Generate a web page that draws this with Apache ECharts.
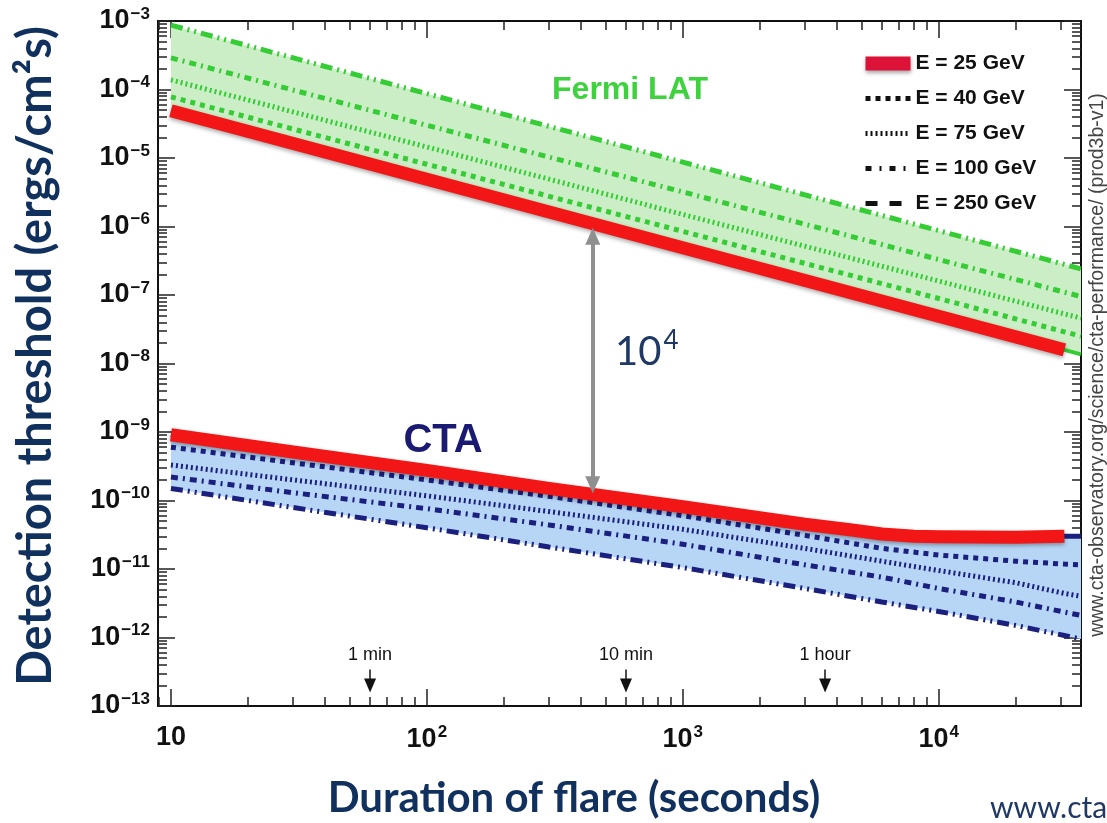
<!DOCTYPE html>
<html>
<head>
<meta charset="utf-8">
<script src="https://cdn.jsdelivr.net/npm/echarts@6/dist/echarts.min.js"></script>
<style>
  html, body { margin: 0; padding: 0; background: #fff; }
  #chart { width: 1107px; height: 823px; }
</style>
</head>
<body>
<div id="chart"></div>
<script>
// flare duration (s) sample points
var tFermi = [10, 100, 1000, 10000, 31000, 36000];
var tCta = [10, 30, 100, 300, 1000, 3000, 6000, 10000, 20000, 31000, 36000];
var tCta25 = [10, 30, 100, 300, 1000, 3000, 4500, 6000, 8000, 10000, 20000, 31000, 36000];

// Fermi LAT detection threshold (ergs/cm2/s)
var fermi25 = [4.9e-5, 4.9e-6, 4.9e-7, 4.9e-8, 1.58e-8, 1.36e-8];
var fermi40 = [7.8e-5, 8.1e-6, 8.5e-7, 8.9e-8, 2.9e-8, 2.5e-8];
var fermi75 = [1.38e-4, 1.45e-5, 1.5e-6, 1.6e-7, 5.3e-8, 4.6e-8];
var fermi100 = [2.9e-4, 3.0e-5, 3.2e-6, 3.3e-7, 1.1e-7, 9.5e-8];
var fermi250 = [8.7e-4, 8.7e-5, 8.7e-6, 8.7e-7, 2.8e-7, 2.4e-7];

// CTA detection threshold (ergs/cm2/s)
var cta25 = [9.1e-10, 5.1e-10, 2.75e-10, 1.5e-10, 8.1e-11, 4.5e-11, 3.75e-11, 3.25e-11, 3.0e-11, 2.95e-11, 2.9e-11, 3.0e-11, 3.0e-11];
var cta40 = [6.0e-10, 3.55e-10, 2.0e-10, 1.15e-10, 6.0e-11, 3.1e-11, 2.0e-11, 1.6e-11, 1.3e-11, 1.18e-11, 1.15e-11];
var cta75 = [3.3e-10, 2.0e-10, 1.17e-10, 6.9e-11, 3.8e-11, 2.0e-11, 1.3e-11, 9.5e-12, 6.3e-12, 4.4e-12, 4.0e-12];
var cta100 = [2.2e-10, 1.3e-10, 7.6e-11, 4.4e-11, 2.3e-11, 1.15e-11, 7.6e-12, 5.2e-12, 3.3e-12, 2.35e-12, 2.1e-12];
var cta250 = [1.5e-10, 7.9e-11, 4.0e-11, 2.1e-11, 1.05e-11, 5.2e-12, 3.3e-12, 2.4e-12, 1.5e-12, 1.07e-12, 9.5e-13];

// axis ticks
var xMajor = [10, 100, 1000, 10000];
var yMajor = [1e-13, 1e-12, 1e-11, 1e-10, 1e-9, 1e-8, 1e-7, 1e-6, 1e-5, 1e-4, 1e-3];

// time markers and the 10^4 gap arrow
var markTimes = [60, 600, 3600];
var markNames = ['1 min', '10 min', '1 hour'];
var gapTime = 445;
var gapTop = 7.2e-7;
var gapBottom = 1.7e-10;

var legendNames = ['E = 25 GeV', 'E = 40 GeV', 'E = 75 GeV', 'E = 100 GeV', 'E = 250 GeV'];

var RED = '#f31616';
var GREEN = '#35cc35';
var NAVY = '#1b1f7e';
var TITLE = '#10305e';

var dash40 = [5, 5];
var dash75 = [2, 3];
var dash100 = [7, 5, 2, 5];
var dash250 = [12, 5, 2, 5, 2, 5];

function minorsOf(majors) {
  var out = [];
  majors.forEach(function (m) {
    for (var k = 2; k <= 9; k++) out.push(+(m * k).toPrecision(3));
  });
  return out;
}
var xMinor = minorsOf([1, 10, 100, 1000, 10000]);
var yMinor = minorsOf(yMajor);

function pairs(ts, vs, n) {
  var d = [];
  for (var i = 0; i < (n || ts.length); i++) d.push([ts[i], vs[i]]);
  return d;
}

function expOf(v) { return Math.round(Math.log(v) / Math.LN10); }

var labelRich = {
  b: { fontFamily: 'Liberation Sans', fontWeight: 'bold', fontSize: 27, color: '#111' },
  s: { fontFamily: 'Liberation Sans', fontWeight: 'bold', fontSize: 17, color: '#111', padding: [0, 0, 14, 1] }
};

function xAxisCfg(pos, ticks, len, labels) {
  return {
    type: 'log', logBase: 10, position: pos, min: 8.9, max: 36000,
    axisLine: { show: true, onZero: false, lineStyle: { color: '#111', width: 2 } },
    axisTick: { show: true, inside: true, length: len, customValues: ticks, lineStyle: { color: '#222', width: 1.5 } },
    axisLabel: labels ? {
      show: true, customValues: xMajor, margin: 18,
      formatter: function (v) {
        var e = expOf(v);
        return e === 1 ? '{b|10}' : '{b|10}{s|' + e + '}';
      },
      rich: labelRich
    } : { show: false },
    splitLine: { show: false }
  };
}

function yAxisCfg(pos, ticks, len, labels) {
  return {
    type: 'log', logBase: 10, position: pos, min: 1e-13, max: 1e-3,
    axisLine: { show: true, onZero: false, lineStyle: { color: '#111', width: 2 } },
    axisTick: { show: true, inside: true, length: len, customValues: ticks, lineStyle: { color: '#222', width: 1.5 } },
    axisLabel: labels ? {
      show: true, customValues: yMajor, margin: 8,
      formatter: function (v) {
        return '{b|10}{s|\u2212' + Math.abs(expOf(v)) + '}';
      },
      rich: labelRich
    } : { show: false },
    splitLine: { show: false }
  };
}

// filled region between an upper and a lower curve
function band(tUp, upper, tLow, lower, color) {
  return {
    type: 'custom', z: 1, silent: true,
    data: [[tUp[0], upper[0]]],
    renderItem: function (params, api) {
      var pts = [];
      for (var i = 0; i < tUp.length; i++) pts.push(api.coord([tUp[i], upper[i]]));
      for (var j = tLow.length - 1; j >= 0; j--) pts.push(api.coord([tLow[j], lower[j]]));
      return { type: 'polygon', shape: { points: pts }, style: { fill: color } };
    }
  };
}

function curve(name, data, color, width, dash, z, extra) {
  var s = {
    type: 'line', name: name, data: data, z: z || 2,
    symbol: 'none', silent: true,
    color: color,
    lineStyle: { color: color, width: width, type: dash || 'solid', cap: 'butt' }
  };
  if (extra) for (var k in extra) s[k] = extra[k];
  return s;
}

var redShadow = { shadowBlur: 4, shadowColor: 'rgba(0,0,0,0.35)', shadowOffsetY: 2 };

var timeMarks = markTimes.map(function (t, i) {
  return [
    { coord: [t, 3.4e-13], name: markNames[i] },
    { coord: [t, 2.0e-13] }
  ];
});

var series = [
  band(tFermi, fermi250, tFermi, fermi25, '#cbeec6'),
  band(tCta25, cta25, tCta, cta250, '#b7d6f6'),

  curve('E = 25 GeV', pairs(tFermi, fermi25), GREEN, 4, 'solid', 2),
  curve('E = 40 GeV', pairs(tFermi, fermi40), GREEN, 5, dash40, 2),
  curve('E = 75 GeV', pairs(tFermi, fermi75), GREEN, 5, dash75, 2),
  curve('E = 100 GeV', pairs(tFermi, fermi100), GREEN, 5, dash100, 2),
  curve('E = 250 GeV', pairs(tFermi, fermi250), GREEN, 5, dash250, 2),

  curve('E = 25 GeV', pairs(tCta25, cta25), NAVY, 5, 'solid', 2),
  curve('E = 40 GeV', pairs(tCta, cta40), NAVY, 5, dash40, 2),
  curve('E = 75 GeV', pairs(tCta, cta75), NAVY, 5, dash75, 2),
  curve('E = 100 GeV', pairs(tCta, cta100), NAVY, 5, dash100, 2),
  curve('E = 250 GeV', pairs(tCta, cta250), NAVY, 5, dash250, 2, {
    markLine: {
      silent: true, z: 5,
      symbol: ['none', 'triangle'], symbolSize: [12, 14],
      lineStyle: { color: '#111', width: 1.5, type: 'solid' },
      label: {
        show: true, position: 'start', formatter: '{b}', distance: 6,
        fontFamily: 'Liberation Sans', fontSize: 18, color: '#111'
      },
      data: timeMarks
    }
  }),

  curve('E = 25 GeV', pairs(tFermi, fermi25, 5), RED, 13, 'solid', 3, {
    lineStyle: Object.assign({ color: RED, width: 13, cap: 'butt' }, redShadow),
    markLine: {
      silent: true, z: 5,
      symbol: ['triangle', 'triangle'], symbolSize: [15, 17],
      lineStyle: { color: '#8f8f8f', width: 4, type: 'solid' },
      itemStyle: { color: '#8f8f8f' },
      label: { show: false },
      data: [[{ coord: [gapTime, gapTop] }, { coord: [gapTime, gapBottom] }]]
    }
  }),
  curve('E = 25 GeV', pairs(tCta25, cta25, 12), RED, 13, 'solid', 3, {
    lineStyle: Object.assign({ color: RED, width: 13, cap: 'butt', join: 'round' }, redShadow)
  })
];

var chart = echarts.init(document.getElementById('chart'), null, { renderer: 'canvas' });

chart.setOption({
  backgroundColor: '#fff',
  animation: false,
  grid: { left: 158, right: 26, top: 21, bottom: 117 },
  xAxis: [
    xAxisCfg('bottom', xMajor, 17, true),
    xAxisCfg('bottom', xMinor, 9, false),
    xAxisCfg('top', xMajor, 17, false),
    xAxisCfg('top', xMinor, 9, false)
  ],
  yAxis: [
    yAxisCfg('left', yMajor, 17, true),
    yAxisCfg('left', yMinor, 9, false),
    yAxisCfg('right', yMajor, 17, false),
    yAxisCfg('right', yMinor, 9, false)
  ],
  legend: {
    orient: 'vertical', left: 858, top: 48,
    itemWidth: 45, itemHeight: 14, itemGap: 14,
    selectedMode: false,
    textStyle: { fontFamily: 'Liberation Sans', fontSize: 21, fontWeight: 'bold', color: '#111' },
    data: [
      { name: legendNames[0], icon: 'rect', itemStyle: Object.assign({ color: '#dc1238', borderWidth: 0 }, redShadow) },
      { name: legendNames[1], itemStyle: { opacity: 0 }, lineStyle: { color: '#111', width: 5, type: dash40 } },
      { name: legendNames[2], itemStyle: { opacity: 0 }, lineStyle: { color: '#111', width: 5, type: dash75 } },
      { name: legendNames[3], itemStyle: { opacity: 0 }, lineStyle: { color: '#111', width: 5, type: [6, 8, 2, 8] } },
      { name: legendNames[4], itemStyle: { opacity: 0 }, lineStyle: { color: '#111', width: 5, type: [12, 12] } }
    ]
  },
  graphic: [
    {
      type: 'text', x: 36, y: 356, rotation: Math.PI / 2,
      style: { text: 'Detection threshold (ergs/cm\u00b2s)', align: 'center', verticalAlign: 'middle',
        font: 'bold 47px Lato', fill: TITLE }
    },
    {
      type: 'text', x: 574, y: 798,
      style: { text: 'Duration of flare (seconds)', align: 'center', verticalAlign: 'middle',
        font: 'bold 42px Lato', fill: TITLE }
    },
    {
      type: 'text', x: 990, y: 808,
      style: { text: 'www.cta-observatory.org', align: 'left', verticalAlign: 'middle',
        font: '30px Lato', fill: '#1f3864' }
    },
    {
      type: 'text', x: 1098, y: 365, rotation: Math.PI / 2,
      style: { text: 'www.cta-observatory.org/science/cta-performance/ (prod3b-v1)', align: 'center', verticalAlign: 'middle',
        font: '19.5px Liberation Sans', fill: '#444' }
    },
    {
      type: 'text', x: 630, y: 90, z: 10,
      style: { text: 'Fermi LAT', align: 'center', verticalAlign: 'middle',
        font: 'bold 32px Liberation Sans', fill: '#3fd23f' }
    },
    {
      type: 'text', x: 443, y: 441, z: 10,
      style: { text: 'CTA', align: 'center', verticalAlign: 'middle',
        font: 'bold 40px Liberation Sans', fill: '#1a1a72' }
    },
    {
      type: 'text', x: 615, y: 352, z: 10,
      style: {
        text: '{b|10}{s|4}', verticalAlign: 'middle',
        rich: {
          b: { font: '40px Lato', fill: '#1f3864' },
          s: { font: '26px Lato', fill: '#1f3864', padding: [0, 0, 22, 2] }
        }
      }
    }
  ],
  series: series
});
</script>
</body>
</html>
